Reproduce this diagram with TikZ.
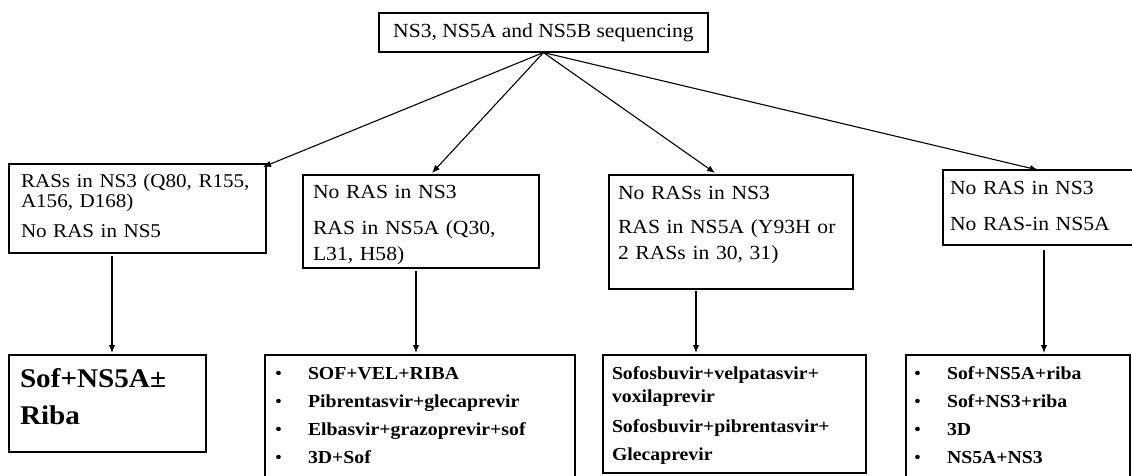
\documentclass[tikz,border=0pt]{standalone}
\usepackage{fontspec}
\setmainfont{Liberation Serif}[FakeStretch=1.08]
\usetikzlibrary{arrows.meta}

% bullet followed by a fixed indent, used in the drug lists
\newcommand\listbul{\makebox[33pt][l]{\fontseries{m}\selectfont\textbullet}}

\tikzset{
  box/.style={draw, line width=1.1pt, anchor=north west, inner sep=0pt, outer sep=0pt},
  txt/.style={anchor=base west, inner sep=0pt, outer sep=0pt, align=left, text width=#1},
  link/.style={line width=1.1pt, -{Latex[length=8pt,width=6.5pt]}},
  reg/.style={font=\fontsize{20}{26}\selectfont},
  drug/.style={font=\bfseries\fontsize{18.3}{28}\selectfont},
}

\begin{document}
\begin{tikzpicture}[x=1pt, y=-1pt]
  \clip (0,0) rectangle (1132,476);
  \fill[white] (0,0) rectangle (1132,476);

  % root
  \node[draw, line width=1.1pt, inner sep=0pt, minimum width=329pt, minimum height=39pt,
        reg] (top) at (543.5,32.5) {NS3, NS5A and NS5B sequencing};

  % resistance profiles
  \node[box, minimum width=257pt, minimum height=89pt]  (b1) at (9,164) {};
  \node[box, minimum width=236pt, minimum height=93pt]  (b2) at (303,175) {};
  \node[box, minimum width=244pt, minimum height=114pt] (b3) at (609,175) {};
  \node[box, minimum width=200pt, minimum height=75pt]  (b4) at (943,170) {};

  \node[txt=240pt, font=\fontsize{19.5}{20}\selectfont] (t1) at (21,187)
    {RASs in NS3 (Q80, R155,\\ A156, D168)\\[10pt] No RAS in NS5};
  \node[txt=225pt, reg] (t2) at (313,198)
    {No RAS in NS3\\[10pt] RAS in NS5A (Q30,\\ L31, H58)};
  \node[txt=232pt, reg] (t3) at (618,199)
    {No RASs in NS3\\[8pt] RAS in NS5A (Y93H or\\ 2 RASs in 30, 31)};
  \node[txt=180pt, reg] (t4) at (950,194)
    {No RAS in NS3\\[10pt] No RAS-in NS5A};

  % treatment options
  \node[box, minimum width=197pt, minimum height=97pt]  (b5) at (9,355) {};
  \node[box, minimum width=310pt, minimum height=130pt] (b6) at (265,355) {};
  \node[box, minimum width=263pt, minimum height=118pt] (b7) at (603,355) {};
  \node[box, minimum width=224pt, minimum height=130pt] (b8) at (906,355) {};

  \node[txt=180pt, font=\bfseries\fontsize{27}{37}\selectfont] (t5) at (20,387)
    {Sof+NS5A±\\ Riba};
  \node[txt=295pt, drug] (t6) at (275,379)
    {\listbul SOF+VEL+RIBA\\ \listbul Pibrentasvir+glecaprevir\\
     \listbul Elbasvir+grazoprevir+sof\\ \listbul 3D+Sof};
  \node[txt=250pt, drug] (t7) at (612,379)
    {Sofosbuvir+velpatasvir+\\[-5pt] voxilaprevir\\[2pt]
     Sofosbuvir+pibrentasvir+\\ Glecaprevir};
  \node[txt=210pt, drug] (t8) at (914,379)
    {\listbul Sof+NS5A+riba\\ \listbul Sof+NS3+riba\\ \listbul 3D\\ \listbul NS5A+NS3};

  % branches from the root
  \draw[link] (top.south) -- ([shift={(-3,3)}]b1.north east);
  \draw[link] (top.south) -- ([shift={(129,-2)}]b2.north west);
  \draw[link] (top.south) -- ([shift={(106,-2)}]b3.north west);
  \draw[link] (top.south) -- ([shift={(95,0)}]b4.north west);

  % profile -> treatment
  \draw[link] ([shift={(103,3)}]b1.south west) -- ([shift={(103,-2)}]b5.north west);
  \draw[link] ([shift={(113,3)}]b2.south west) -- ([shift={(151,-2)}]b6.north west);
  \draw[link] ([shift={(87,2)}]b3.south west)  -- ([shift={(93,-2)}]b7.north west);
  \draw[link] ([shift={(101,5)}]b4.south west) -- ([shift={(138,-2)}]b8.north west);
\end{tikzpicture}
\end{document}
